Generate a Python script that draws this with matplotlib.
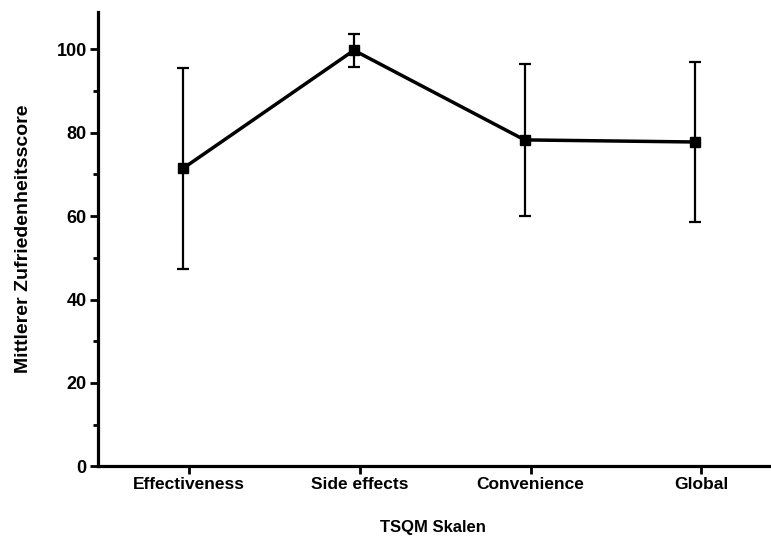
import numpy as np
import matplotlib
matplotlib.use("Agg")
import matplotlib.pyplot as plt
from matplotlib.ticker import MultipleLocator

# Daten (TSQM Skalen)
skalen = ["Effectiveness", "Side effects", "Convenience", "Global"]
mittelwerte = [71.5, 99.8, 78.3, 77.8]
sd = [24.1, 3.9, 18.3, 19.3]

plt.rcParams['font.family'] = ['Liberation Sans', 'DejaVu Sans']
plt.rcParams['font.weight'] = 'bold'

fig = plt.figure(figsize=(7.71, 5.44), dpi=100)
ax = fig.add_axes([0.127, 0.143, 0.870, 0.835])

x = np.arange(len(skalen))
ax.plot(x, mittelwerte, color='black', lw=2.5, zorder=3)
ax.errorbar(x, mittelwerte, yerr=sd, fmt='s', color='black', ms=7,
            elinewidth=1.6, capsize=4.5, capthick=1.6, zorder=4)

ax.set_xlim(-0.5, 3.43)
ax.set_ylim(0, 109)
ax.set_xticks(x + 0.035)
ax.set_xticklabels(skalen)
ax.yaxis.set_major_locator(MultipleLocator(20))
ax.yaxis.set_minor_locator(MultipleLocator(10))

for s in ['top', 'right']:
    ax.spines[s].set_visible(False)
for s in ['left', 'bottom']:
    ax.spines[s].set_linewidth(2.3)

ax.tick_params(axis='both', which='major', width=2, length=6, pad=2)
ax.tick_params(axis='x', labelsize=12.5)
ax.tick_params(axis='y', labelsize=13)
ax.tick_params(axis='y', which='minor', width=2, length=3.5)
for lbl in ax.get_xticklabels() + ax.get_yticklabels():
    lbl.set_fontweight('bold')

ax.set_xlabel("TSQM Skalen", fontsize=12, fontweight='bold', labelpad=20)
ax.set_ylabel("Mittlerer Zufriedenheitsscore", fontsize=14, fontweight='bold', labelpad=18)

fig.savefig("out.png", dpi=100)
